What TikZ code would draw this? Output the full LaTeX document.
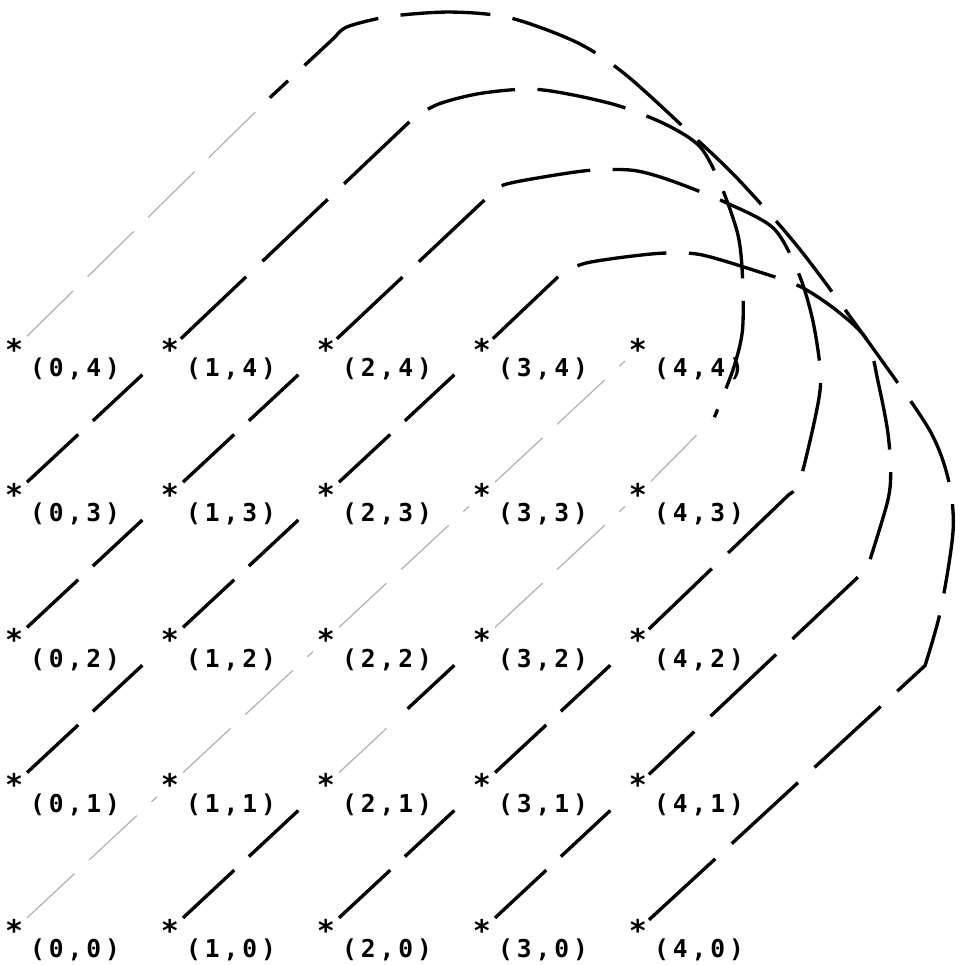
\documentclass[tikz,border=0pt]{standalone}
\usepackage{fontspec}
\newfontfamily\gridfont[LetterSpace=16]{DejaVu Sans Mono}
\newfontfamily\starfont{DejaVu Sans Mono}
\usetikzlibrary{calc}

\begin{document}
\begin{tikzpicture}[x=3.12cm, y=2.905cm,
    pt/.style={font=\starfont\bfseries\fontsize{17pt}{18pt}\selectfont, inner sep=0pt},
    lbl/.style={font=\gridfont\bfseries\fontsize{14pt}{15pt}\selectfont,
        inner sep=0pt, xshift=1.22cm, yshift=-0.4cm},
    grd/.style={line width=1.9pt, dash pattern=on 1.4cm off 0.4cm,
        shorten <=0.1cm, shorten >=0.5cm},
    fnt/.style={line width=0.7pt, gray!60, dash pattern=on 1.3cm off 0.4cm,
        shorten <=0.1cm, shorten >=0.1cm},
    loopline/.style={line width=1.9pt, dash pattern=on 1.8cm off 0.45cm,
        shorten <=0.3cm}
]
\useasboundingbox (-0.0897,-0.241) rectangle (6.064,6.403);

% grid points
\node[pt] (p00) at (0,0) {*}; \node[lbl] (l00) at (0,0) {(0,0)};
\node[pt] (p10) at (1,0) {*}; \node[lbl] (l10) at (1,0) {(1,0)};
\node[pt] (p20) at (2,0) {*}; \node[lbl] (l20) at (2,0) {(2,0)};
\node[pt] (p30) at (3,0) {*}; \node[lbl] (l30) at (3,0) {(3,0)};
\node[pt] (p40) at (4,0) {*}; \node[lbl] (l40) at (4,0) {(4,0)};
\node[pt] (p01) at (0,1) {*}; \node[lbl] (l01) at (0,1) {(0,1)};
\node[pt] (p11) at (1,1) {*}; \node[lbl] (l11) at (1,1) {(1,1)};
\node[pt] (p21) at (2,1) {*}; \node[lbl] (l21) at (2,1) {(2,1)};
\node[pt] (p31) at (3,1) {*}; \node[lbl] (l31) at (3,1) {(3,1)};
\node[pt] (p41) at (4,1) {*}; \node[lbl] (l41) at (4,1) {(4,1)};
\node[pt] (p02) at (0,2) {*}; \node[lbl] (l02) at (0,2) {(0,2)};
\node[pt] (p12) at (1,2) {*}; \node[lbl] (l12) at (1,2) {(1,2)};
\node[pt] (p22) at (2,2) {*}; \node[lbl] (l22) at (2,2) {(2,2)};
\node[pt] (p32) at (3,2) {*}; \node[lbl] (l32) at (3,2) {(3,2)};
\node[pt] (p42) at (4,2) {*}; \node[lbl] (l42) at (4,2) {(4,2)};
\node[pt] (p03) at (0,3) {*}; \node[lbl] (l03) at (0,3) {(0,3)};
\node[pt] (p13) at (1,3) {*}; \node[lbl] (l13) at (1,3) {(1,3)};
\node[pt] (p23) at (2,3) {*}; \node[lbl] (l23) at (2,3) {(2,3)};
\node[pt] (p33) at (3,3) {*}; \node[lbl] (l33) at (3,3) {(3,3)};
\node[pt] (p43) at (4,3) {*}; \node[lbl] (l43) at (4,3) {(4,3)};
\node[pt] (p04) at (0,4) {*}; \node[lbl] (l04) at (0,4) {(0,4)};
\node[pt] (p14) at (1,4) {*}; \node[lbl] (l14) at (1,4) {(1,4)};
\node[pt] (p24) at (2,4) {*}; \node[lbl] (l24) at (2,4) {(2,4)};
\node[pt] (p34) at (3,4) {*}; \node[lbl] (l34) at (3,4) {(3,4)};
\node[pt] (p44) at (4,4) {*}; \node[lbl] (l44) at (4,4) {(4,4)};

% main diagonal
\draw[fnt] (p00) -- (p11);
\draw[fnt] (p11) -- (p22);
\draw[fnt] (p22) -- (p33);
\draw[fnt] (p33) -- (p44);

% diagonals inside the grid
\draw[grd] (p01) -- (p12);
\draw[grd] (p12) -- (p23);
\draw[grd] (p23) -- (p34);
\draw[grd] (p02) -- (p13);
\draw[grd] (p13) -- (p24);
\draw[grd] (p03) -- (p14);
\draw[grd] (p10) -- (p21);
\draw[grd] (p20) -- (p31);
\draw[grd] (p31) -- (p42);
\draw[grd] (p30) -- (p41);

\coordinate (b2) at ($(p21)!0.5!(p32)$);
\draw[fnt] (p21) -- (b2);
\draw[grd] (b2) -- (p32);
\draw[fnt] (p32) -- (p43);

% loops
\coordinate (a1) at (1.64,5.73);
\draw[loopline] (p40.center) -- plot[smooth] coordinates {(5.84,1.82) (5.94,2.20)
    (6.02,2.75) (5.99,3.10) (5.87,3.44) (5.55,3.94) (5.05,4.67) (4.65,5.16)
    (4.33,5.49) (3.92,5.89) (3.61,6.11) (3.18,6.28) (2.80,6.32) (2.41,6.29)
    (2.14,6.22) (2.06,6.15)} -- (a1);
\draw[fnt] (p04) -- (a1);

\coordinate (b1) at (4.49,3.53);
\draw[loopline] (p14.center) -- plot[smooth] coordinates {(2.57,5.60) (2.73,5.69)
    (2.99,5.76) (3.31,5.79) (3.58,5.75) (3.89,5.67) (4.19,5.54) (4.40,5.39)
    (4.53,5.13) (4.64,4.79) (4.67,4.50) (4.67,4.13) (4.61,3.86) (4.49,3.53)};
\draw[fnt] (p43) -- (b1);

\draw[loopline, shorten >=0.3cm] (p24.center) -- plot[smooth] coordinates {(3.05,5.06)
    (3.14,5.13) (3.37,5.18) (3.69,5.23) (3.97,5.23) (4.21,5.16) (4.56,5.01)
    (4.87,4.83) (5.03,4.52) (5.12,4.20) (5.17,3.84) (5.15,3.60) (5.04,3.10)
    (4.97,3.00)} -- (p42.center);

\draw[loopline, shorten >=0.3cm] (p34.center) -- plot[smooth] coordinates {(3.52,4.53)
    (3.66,4.59) (3.89,4.63) (4.16,4.66) (4.40,4.65) (4.75,4.54) (5.04,4.43)
    (5.28,4.26) (5.47,4.06) (5.54,3.77) (5.60,3.44) (5.62,3.17) (5.60,2.95)
    (5.47,2.49)} -- (p41.center);

\end{tikzpicture}
\end{document}
